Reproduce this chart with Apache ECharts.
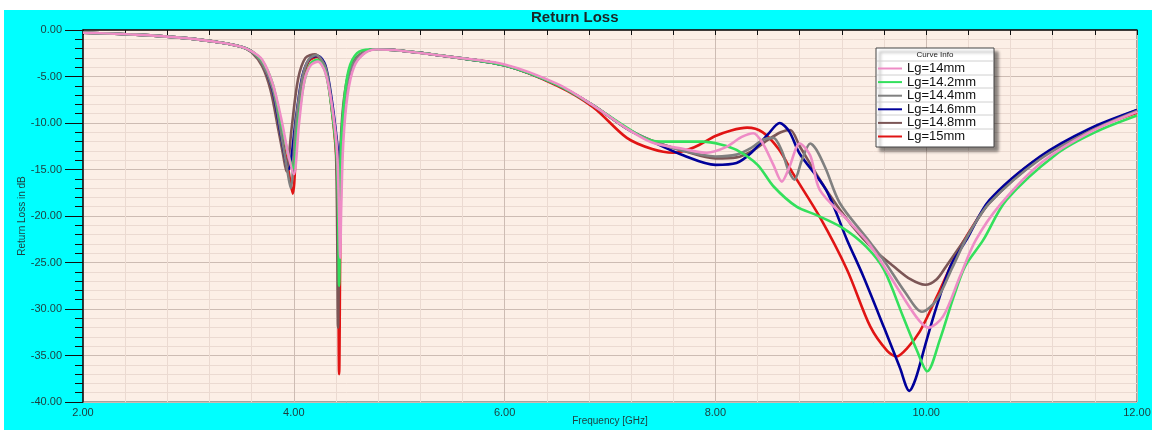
<!DOCTYPE html>
<html>
<head>
<meta charset="utf-8">
<script src="https://cdn.jsdelivr.net/npm/echarts@6/dist/echarts.min.js"></script>
<style>
html, body { margin: 0; padding: 0; background: #fff; }
#frame { position: absolute; left: 4px; top: 10px; width: 1148px; height: 420px; background: #00FFFF; }
#main { position: absolute; left: 0; top: 0; width: 1156px; height: 432px; }
</style>
</head>
<body>
<div id="frame"></div>
<div id="main"></div>
<script>
// [frequency GHz, return loss dB]
var lg14 = [[2.0,-0.3],[2.5,-0.5],[3.0,-0.9],[3.3,-1.35],[3.5,-1.8],[3.6,-2.3],[3.7,-3.2],[3.8,-5.8],[3.88,-9.5],[3.95,-13.5],[4.0,-15.5],[4.05,-10],[4.1,-5.5],[4.16,-3.8],[4.23,-3.4],[4.3,-4.6],[4.36,-8],[4.41,-13],[4.43,-20],[4.44,-24.5],[4.45,-19],[4.47,-12],[4.51,-7],[4.57,-4],[4.66,-2.6],[4.78,-2.1],[5.0,-2.2],[5.5,-2.9],[6.0,-3.7],[6.5,-5.8],[6.84,-8.1],[7.16,-10.6],[7.4,-12.1],[7.7,-12.8],[7.92,-13.2],[8.1,-12.6],[8.25,-11.5],[8.36,-11.1],[8.45,-12.2],[8.55,-14.5],[8.63,-16.3],[8.7,-14.8],[8.8,-12.2],[8.9,-13.5],[8.99,-17.2],[9.25,-20.4],[9.43,-22.6],[9.56,-24.7],[9.78,-28.7],[9.93,-31.2],[10.02,-32.0],[10.16,-30.8],[10.32,-26.5],[10.47,-22.6],[10.7,-18.8],[11.1,-14.2],[11.55,-11.0],[12.0,-8.8]];
var lg14_2 = [[2.0,-0.3],[2.5,-0.5],[3.0,-0.9],[3.3,-1.35],[3.5,-1.8],[3.6,-2.3],[3.7,-3.3],[3.8,-5.8],[3.88,-10],[3.95,-13.5],[3.995,-14.9],[4.04,-10],[4.1,-5.5],[4.16,-3.6],[4.22,-3.2],[4.3,-4.5],[4.36,-8.5],[4.41,-14],[4.43,-27.5],[4.445,-14],[4.47,-8.5],[4.52,-4.3],[4.6,-2.5],[4.72,-2.1],[5.0,-2.2],[5.5,-2.9],[6.0,-3.8],[6.5,-5.9],[6.84,-8.1],[7.16,-10.5],[7.4,-11.9],[7.6,-12.0],[7.88,-12.0],[8.05,-12.3],[8.2,-12.9],[8.4,-14.5],[8.55,-16.8],[8.77,-19.0],[8.96,-19.9],[9.21,-21.3],[9.43,-23.3],[9.6,-25.8],[9.78,-30.8],[9.91,-34.4],[10.01,-36.7],[10.13,-33.3],[10.26,-28.7],[10.37,-25.4],[10.54,-22.6],[10.76,-18.3],[11.24,-13.3],[11.6,-11.0],[12.0,-9.2]];
var lg14_4 = [[2.0,-0.3],[2.5,-0.5],[3.0,-0.9],[3.3,-1.35],[3.5,-1.8],[3.6,-2.3],[3.7,-3.6],[3.8,-6.3],[3.87,-10.5],[3.93,-14.5],[3.97,-17],[4.02,-10],[4.08,-5.2],[4.14,-3.2],[4.21,-2.7],[4.3,-4.0],[4.36,-8],[4.41,-13],[4.43,-23],[4.445,-13],[4.48,-8],[4.54,-4.2],[4.64,-2.6],[4.76,-2.1],[5.0,-2.2],[5.5,-2.9],[6.0,-3.8],[6.5,-5.9],[6.84,-8.1],[7.16,-10.6],[7.4,-11.9],[7.7,-13.0],[8.0,-13.6],[8.2,-13.4],[8.35,-12.6],[8.45,-11.8],[8.55,-11.6],[8.63,-13],[8.69,-15],[8.75,-16.1],[8.82,-14],[8.9,-12.2],[8.96,-12.9],[9.05,-15],[9.18,-18.6],[9.43,-22.3],[9.6,-24.8],[9.8,-28.2],[9.96,-30.3],[10.1,-29],[10.25,-25.5],[10.4,-22],[10.6,-18.6],[11.08,-13.9],[11.55,-10.9],[12.0,-8.7]];
var lg14_6 = [[2.0,-0.3],[2.5,-0.5],[3.0,-0.9],[3.3,-1.35],[3.5,-1.8],[3.6,-2.3],[3.7,-3.5],[3.8,-6.5],[3.87,-10.8],[3.95,-15],[4.02,-9.5],[4.08,-5],[4.15,-3.1],[4.23,-2.8],[4.3,-3.8],[4.36,-7.5],[4.41,-12],[4.43,-14.5],[4.45,-12],[4.49,-7.5],[4.55,-4.2],[4.65,-2.6],[4.76,-2.1],[5.0,-2.2],[5.5,-2.9],[6.0,-3.8],[6.5,-5.9],[6.84,-8.1],[7.16,-10.6],[7.4,-12.0],[7.7,-13.5],[8.0,-14.5],[8.2,-14.3],[8.34,-13.2],[8.5,-11.2],[8.61,-10.0],[8.7,-10.9],[8.8,-13.3],[9.05,-17.2],[9.25,-22.6],[9.4,-26.4],[9.6,-32],[9.75,-36.3],[9.84,-38.8],[9.9,-37.5],[10.0,-33.5],[10.1,-29.7],[10.23,-25.4],[10.38,-22.6],[10.6,-18.3],[11.08,-13.6],[11.55,-10.6],[12.0,-8.6]];
var lg14_8 = [[2.0,-0.3],[2.5,-0.5],[3.0,-0.9],[3.3,-1.35],[3.5,-1.8],[3.6,-2.4],[3.7,-3.9],[3.78,-6.5],[3.85,-10.5],[3.9,-13.5],[3.93,-15.2],[3.98,-10.5],[4.04,-5.3],[4.11,-3.0],[4.2,-2.6],[4.29,-3.8],[4.35,-7.5],[4.4,-13],[4.42,-32],[4.44,-14],[4.47,-8],[4.53,-4.2],[4.63,-2.6],[4.76,-2.1],[5.0,-2.2],[5.5,-2.9],[6.0,-3.8],[6.5,-5.9],[6.84,-8.1],[7.16,-10.6],[7.4,-11.9],[7.7,-13.0],[8.0,-13.8],[8.2,-13.7],[8.35,-13.0],[8.5,-11.8],[8.62,-11.0],[8.71,-10.75],[8.8,-12.5],[9.07,-17.5],[9.3,-21.1],[9.5,-23.6],[9.69,-25.4],[9.85,-26.8],[9.99,-27.4],[10.1,-26.8],[10.19,-25.4],[10.38,-22.3],[10.6,-18.6],[11.08,-13.8],[11.55,-10.8],[12.0,-8.6]];
var lg15 = [[2.0,-0.3],[2.5,-0.5],[3.0,-0.9],[3.3,-1.35],[3.5,-1.8],[3.6,-2.3],[3.7,-3.4],[3.8,-6.2],[3.87,-10.5],[3.94,-14.5],[3.99,-17.6],[4.03,-11],[4.08,-5.8],[4.14,-3.4],[4.22,-2.9],[4.3,-4.3],[4.36,-8.5],[4.41,-15],[4.43,-37],[4.45,-15],[4.49,-8],[4.55,-4.3],[4.65,-2.6],[4.76,-2.1],[5.0,-2.2],[5.5,-2.9],[6.0,-3.8],[6.5,-6.0],[6.84,-8.3],[7.16,-11.6],[7.4,-12.8],[7.6,-13.2],[7.8,-12.6],[8.0,-11.4],[8.15,-10.8],[8.3,-10.5],[8.45,-11.0],[8.6,-12.8],[8.74,-15.5],[8.99,-20.1],[9.25,-25.8],[9.47,-31.9],[9.63,-34.5],[9.72,-35.1],[9.82,-34.2],[9.94,-32.4],[10.1,-28.7],[10.26,-24.7],[10.35,-22.8],[10.6,-18.5],[11.0,-14.3],[11.5,-11.0],[12.0,-8.9]];

var names = ['Lg=14mm', 'Lg=14.2mm', 'Lg=14.4mm', 'Lg=14.6mm', 'Lg=14.8mm', 'Lg=15mm'];
var colors = ['#EE8CC6', '#33E05C', '#808080', '#00009A', '#7C5656', '#E01414'];
var curves = [lg14, lg14_2, lg14_4, lg14_6, lg14_8, lg15];
var drawOrder = [5, 4, 3, 2, 1, 0];

var font = 'Liberation Sans, Arial, sans-serif';
var labelColor = '#1E3C3C';

var series = drawOrder.map(function (i) {
    return {
        name: names[i],
        type: 'line',
        data: curves[i],
        showSymbol: false,
        smooth: 0.3,
        color: colors[i],
        lineStyle: { width: 2.6, color: colors[i] }
    };
});

// legend box with its header and thin row rules
var boxGraphics = [
    { type: 'rect', z: 10, shape: { x: 876, y: 48, width: 118, height: 99 },
      style: { fill: '#fff', stroke: '#444', lineWidth: 1, shadowBlur: 3, shadowOffsetX: 4, shadowOffsetY: 4, shadowColor: 'rgba(0,0,0,0.45)' } },
    { type: 'text', z: 21, x: 935, y: 51, style: { text: 'Curve Info', fontSize: 8, fontFamily: font, fill: '#222', textAlign: 'center' } }
];
[61, 75, 88, 102, 115, 129].forEach(function (y) {
    boxGraphics.push({ type: 'line', z: 11, shape: { x1: 877, y1: y, x2: 993, y2: y }, style: { stroke: '#d0d0d0', lineWidth: 1 } });
});

var myChart = echarts.init(document.getElementById('main'));
var option = {
    backgroundColor: 'transparent',
    animation: false,
    title: {
        text: 'Return Loss',
        left: 531,
        top: 10,
        padding: 0,
        textStyle: { fontSize: 15, fontWeight: 'bold', color: '#1a2626', fontFamily: font }
    },
    legend: {
        data: names,
        orient: 'vertical',
        left: 878,
        top: 62,
        padding: 0,
        itemGap: 0.6,
        itemWidth: 24,
        itemHeight: 2,
        icon: 'rect',
        z: 20,
        textStyle: { fontSize: 13, lineHeight: 13, color: '#111', fontFamily: font }
    },
    graphic: boxGraphics,
    grid: {
        left: 83,
        right: 19,
        top: 30,
        bottom: 30,
        outerBoundsMode: 'none',
        show: true,
        backgroundColor: '#FCEFE6',
        borderColor: '#555',
        borderWidth: 1
    },
    xAxis: {
        type: 'value',
        min: 2,
        max: 12,
        interval: 2,
        name: 'Frequency [GHz]',
        nameLocation: 'middle',
        nameGap: 14,
        nameMoveOverlap: false,
        nameTextStyle: { fontSize: 10, color: labelColor, fontFamily: font },
        axisLine: { lineStyle: { color: '#111', width: 1.5 } },
        axisTick: { length: 5, lineStyle: { color: '#111' } },
        minorTick: { show: true, splitNumber: 5, length: 5, lineStyle: { color: '#111' } },
        axisLabel: { margin: 5, fontSize: 11, color: labelColor, fontFamily: font,
            formatter: function (v) { return v.toFixed(2); } },
        splitLine: { lineStyle: { color: '#CDBCB3' } },
        minorSplitLine: { show: true, lineStyle: { color: '#EBDAD1' } }
    },
    yAxis: {
        type: 'value',
        min: -40,
        max: 0,
        interval: 5,
        name: 'Return Loss in dB',
        nameLocation: 'middle',
        nameGap: 56,
        nameMoveOverlap: false,
        nameTextStyle: { fontSize: 10, color: labelColor, fontFamily: font },
        axisLine: { show: true, lineStyle: { color: '#111', width: 1.5 } },
        axisTick: { show: true, length: 18, lineStyle: { color: '#111' } },
        minorTick: { show: true, splitNumber: 5, length: 8, lineStyle: { color: '#111' } },
        axisLabel: { margin: 21, fontSize: 11, color: labelColor, fontFamily: font,
            formatter: function (v) { return v.toFixed(2); } },
        splitLine: { lineStyle: { color: '#CDBCB3' } },
        minorSplitLine: { show: true, lineStyle: { color: '#EBDAD1' } }
    },
    series: series
};
myChart.setOption(option);
</script>
</body>
</html>
